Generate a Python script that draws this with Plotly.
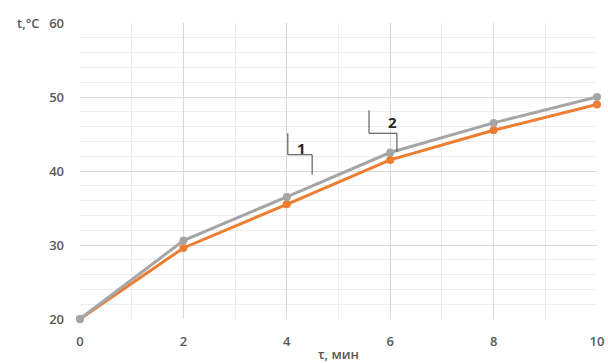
import plotly.graph_objects as go

x_vals = [0, 2, 4, 6, 8, 10]
series_2 = [20, 30.6, 36.5, 42.5, 46.5, 50]
series_1 = [20, 29.6, 35.5, 41.5, 45.5, 49]
y_ticks = [20, 30, 40, 50, 60]
x_ticks = [0, 2, 4, 6, 8, 10]

fig = go.Figure()
fig.add_trace(go.Scatter(x=x_vals, y=series_1, mode="lines+markers",
                         line=dict(color="#ED7D31", width=3),
                         marker=dict(color="#ED7D31", size=8), name="1", cliponaxis=False))
fig.add_trace(go.Scatter(x=x_vals, y=series_2, mode="lines+markers",
                         line=dict(color="#A5A5A5", width=3),
                         marker=dict(color="#A5A5A5", size=8), name="2", cliponaxis=False))

font = dict(family="Open Sans, Liberation Sans, sans-serif", size=13, color="#595959", weight=600)

fig.update_layout(
    width=608, height=363,
    margin=dict(l=80, r=11, t=23, b=44),
    paper_bgcolor="white", plot_bgcolor="white",
    showlegend=False, font=font,
    xaxis=dict(range=[0, 10], tickvals=x_ticks, showgrid=True, gridcolor="#D9D9D9",
               minor=dict(dtick=1, showgrid=True, gridcolor="#EDEDED"),
               zeroline=False, showline=False, ticks="", ticklabelstandoff=13,
               automargin=False,
               title=dict(text="τ, мин", standoff=4, font=font)),
    yaxis=dict(range=[20, 60], tickvals=y_ticks, showgrid=True, gridcolor="#D9D9D9",
               minor=dict(dtick=2, showgrid=True, gridcolor="#EDEDED"),
               zeroline=False, showline=False, ticks="", ticklabelstandoff=15,
               automargin=False),
)

lc = dict(color="#404040", width=1)
# leader for 1
fig.add_shape(type="path", path="M 4.02 45.1 L 4.02 42.2 L 4.49 42.2 L 4.49 39.5",
              xref="x", yref="y", line=lc)
# leader for 2
fig.add_shape(type="path", path="M 5.59 48.2 L 5.59 45.1 L 6.13 45.1 L 6.13 42.6",
              xref="x", yref="y", line=lc)
fig.add_annotation(x=4.29, y=43.1, text="1", showarrow=False, xref="x", yref="y",
                   font=dict(family="Open Sans, sans-serif", size=15, color="#262626", weight=700))
fig.add_annotation(x=6.05, y=46.6, text="2", showarrow=False, xref="x", yref="y",
                   font=dict(family="Open Sans, sans-serif", size=15, color="#262626", weight=700))
fig.add_annotation(x=-0.1, y=1, xref="paper", yref="paper", text="t,°C", showarrow=False,
                   xanchor="center", yanchor="middle", font=font)

fig.write_html("out.html", config={"displayModeBar": False},
               post_script="document.body.style.margin='0px';document.body.style.overflow='hidden';")
